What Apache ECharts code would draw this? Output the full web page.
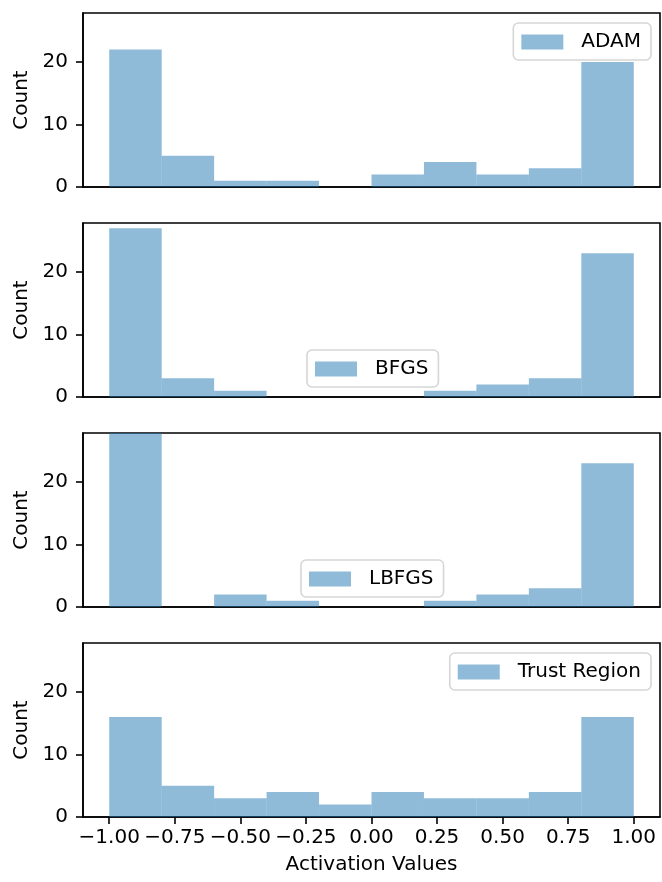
<!DOCTYPE html>
<html>
<head>
<meta charset="utf-8">
<script src="https://cdn.jsdelivr.net/npm/echarts@6/dist/echarts.min.js"></script>
<style>html,body{margin:0;padding:0;background:#fff}#c{width:662px;height:882px}</style>
</head>
<body>
<div id="c"></div>
<script>
// Histogram bin edges (10 bins from -1 to 1)
const binEdges = [-1.0, -0.8, -0.6, -0.4, -0.2, 0.0, 0.2, 0.4, 0.6, 0.8, 1.0];
const seriesNames = ['ADAM', 'BFGS', 'LBFGS', 'Trust Region'];
const adamCounts  = [22, 5, 1, 1, 0, 2, 4, 2, 3, 20];
const bfgsCounts  = [27, 3, 1, 0, 0, 0, 1, 2, 3, 23];
const lbfgsCounts = [28, 0, 2, 1, 0, 0, 1, 2, 3, 23];
const trustCounts = [16, 5, 3, 4, 2, 4, 3, 3, 4, 16];
const xTicks = [-1.0, -0.75, -0.5, -0.25, 0.0, 0.25, 0.5, 0.75, 1.0];
const yTicks = [0, 10, 20];
const xLabel = 'Activation Values';
const yLabel = 'Count';

const allCounts = [adamCounts, bfgsCounts, lbfgsCounts, trustCounts];
const FONT = 'DejaVu Sans';
const FS = 20;
const barColor = 'rgba(31,119,180,0.5)';
const tops = [13, 223, 433, 643];
const gridH = 174;
const yMax = 27.85;

function binData(counts) {
  return counts.map((c, i) => [binEdges[i], binEdges[i + 1], c]);
}

function renderItem(params, api) {
  const x0 = api.value(0), x1 = api.value(1), v = api.value(2);
  if (!v) return null;
  const p0 = api.coord([x0, 0]);
  const p1 = api.coord([x1, v]);
  const cs = params.coordSys;
  const top = Math.max(p1[1], cs.y);
  return {
    type: 'rect',
    shape: { x: p0[0], y: top, width: p1[0] - p0[0], height: p0[1] - top },
    style: api.style()
  };
}

function fmtX(v) {
  const s = Math.abs(v).toFixed(2);
  return (v < 0 ? '\u2212' : '') + s;
}

const grids = [], xAxes = [], yAxes = [], series = [];
tops.forEach((t, i) => {
  grids.push({ left: 83, right: 2, top: t, height: gridH, show: true,
    borderColor: '#000', borderWidth: 1.6, backgroundColor: 'transparent' });
  const isLast = i === tops.length - 1;
  xAxes.push({
    type: 'value', gridIndex: i, min: -1.1, max: 1.1,
    splitLine: { show: false },
    axisLine: { show: true, onZero: false, lineStyle: { color: '#000', width: 1.6 } },
    axisTick: { show: isLast, length: 7, inside: false, lineStyle: { color: '#000', width: 1.6 }, customValues: xTicks },
    axisLabel: { show: isLast, customValues: xTicks, formatter: fmtX, color: '#000',
      fontFamily: FONT, fontSize: FS, margin: 11 },
    name: isLast ? xLabel : '', nameLocation: 'middle', nameGap: 38,
    nameTextStyle: { color: '#000', fontFamily: FONT, fontSize: FS }
  });
  yAxes.push({
    type: 'value', gridIndex: i, min: 0, max: yMax,
    splitLine: { show: false },
    axisLine: { show: true, onZero: false, lineStyle: { color: '#000', width: 1.6 } },
    axisTick: { show: true, length: 7, lineStyle: { color: '#000', width: 1.6 }, customValues: yTicks },
    axisLabel: { customValues: yTicks, color: '#000', fontFamily: FONT, fontSize: FS, margin: 15 },
    name: yLabel, nameLocation: 'middle', nameGap: 51,
    nameTextStyle: { color: '#000', fontFamily: FONT, fontSize: FS }
  });
  series.push({
    type: 'custom', name: seriesNames[i], xAxisIndex: i, yAxisIndex: i,
    renderItem: renderItem, clip: true,
    itemStyle: { color: barColor },
    encode: { x: [0, 1], y: 2 },
    data: binData(allCounts[i])
  });
});

const legendCommon = {
  orient: 'vertical', icon: 'rect', itemWidth: 42, itemHeight: 15,
  padding: [9, 10, 8, 8], borderColor: '#d6d6d6', borderWidth: 1.6, borderRadius: 5,
  backgroundColor: 'rgba(255,255,255,0.8)',
  textStyle: { color: '#000', fontFamily: FONT, fontSize: FS, padding: [0, 0, 0, 13] },
  selectedMode: false
};
const legends = [
  Object.assign({}, legendCommon, { data: [seriesNames[0]], right: 11, top: 23 }),
  Object.assign({}, legendCommon, { data: [seriesNames[1]], left: 307, top: 350 }),
  Object.assign({}, legendCommon, { data: [seriesNames[2]], left: 301, top: 560 }),
  Object.assign({}, legendCommon, { data: [seriesNames[3]], right: 11, top: 653 })
];

const chart = echarts.init(document.getElementById('c'), null, { renderer: 'canvas' });
chart.setOption({
  animation: false,
  backgroundColor: '#fff',
  grid: grids, xAxis: xAxes, yAxis: yAxes, series: series, legend: legends
});
</script>
</body>
</html>
